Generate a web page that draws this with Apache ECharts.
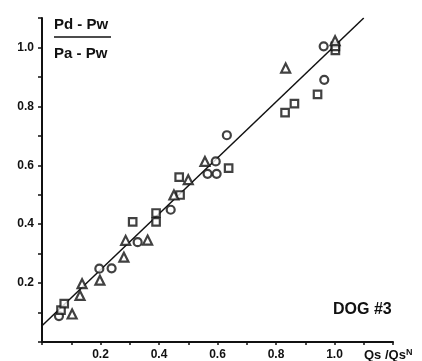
<!DOCTYPE html>
<html>
<head>
<meta charset="utf-8">
<script src="https://cdn.jsdelivr.net/npm/echarts@6/dist/echarts.min.js"></script>
<style>
  html, body { margin: 0; padding: 0; background: #fff; }
  #chart { width: 422px; height: 361px; }
</style>
</head>
<body>
<div id="chart"></div>
<script>
// values (x = Qs/QsN, y = (Pd-Pw)/(Pa-Pw))
const circles = [
  [0.058, 0.088], [0.196, 0.249], [0.238, 0.250], [0.327, 0.339],
  [0.440, 0.449], [0.566, 0.571], [0.597, 0.571], [0.594, 0.613],
  [0.632, 0.702], [0.965, 0.890], [0.963, 1.004]
];
const squares = [
  [0.065, 0.108], [0.076, 0.130], [0.310, 0.408], [0.390, 0.438],
  [0.390, 0.408], [0.472, 0.499], [0.469, 0.560], [0.638, 0.590],
  [0.831, 0.779], [0.863, 0.809], [0.942, 0.841], [1.003, 0.990],
  [1.003, 1.004]
];
const triangles = [
  [0.103, 0.095], [0.137, 0.198], [0.130, 0.158], [0.198, 0.210],
  [0.280, 0.288], [0.286, 0.345], [0.361, 0.346], [0.451, 0.499],
  [0.500, 0.551], [0.557, 0.613], [0.833, 0.930], [1.002, 1.023]
];
const fitLine = [[0, 0.055], [1.1, 1.1]];
const xLabels = [0.2, 0.4, 0.6, 0.8, 1.0];
const yLabels = [0.2, 0.4, 0.6, 0.8, 1.0];

const ink = "#111";
const font = "'Liberation Sans', Arial, sans-serif";

const chart = echarts.init(document.getElementById("chart"), null, { renderer: "canvas" });

const showIf = (list) => (v) => list.some((t) => Math.abs(t - v) < 1e-6) ? v.toFixed(1) : "";

const markStyle = { color: "#fff", borderColor: ink, borderWidth: 2.2 };

chart.setOption({
  animation: false,
  backgroundColor: "#fff",
  grid: { left: 42, right: 29, top: 18, bottom: 19 },
  xAxis: {
    type: "value",
    min: 0,
    max: 1.2,
    interval: 0.1,
    splitLine: { show: false },
    axisLine: { lineStyle: { color: ink, width: 2 } },
    axisTick: { length: 3, lineStyle: { color: ink, width: 1.5 } },
    axisLabel: {
      color: ink, fontFamily: font, fontWeight: "bold", fontSize: 12,
      margin: 7, formatter: showIf(xLabels)
    }
  },
  yAxis: {
    type: "value",
    min: 0,
    max: 1.1,
    interval: 0.1,
    splitLine: { show: false },
    axisLine: { lineStyle: { color: ink, width: 2 } },
    axisTick: { length: 4, lineStyle: { color: ink, width: 1.5 } },
    axisLabel: {
      color: ink, fontFamily: font, fontWeight: "bold", fontSize: 12,
      margin: 8, formatter: showIf(yLabels)
    }
  },
  graphic: [
    { type: "text", left: 54, top: 17,
      style: { text: "Pd - Pw", fill: ink, font: "bold 15px " + font } },
    { type: "line", shape: { x1: 54, y1: 37, x2: 111, y2: 37 },
      style: { stroke: ink, lineWidth: 1.5 } },
    { type: "text", left: 54, top: 46,
      style: { text: "Pa - Pw", fill: ink, font: "bold 15px " + font } },
    { type: "text", left: 333, top: 302,
      style: { text: "DOG #3", fill: ink, font: "bold 16px " + font } },
    { type: "text", left: 364, top: 348,
      style: {
        text: "Qs /Qs{sup|N}", fill: ink, font: "bold 13px " + font,
        rich: { sup: { fontSize: 9, fontWeight: "bold", fontFamily: font, verticalAlign: "top", padding: [0, 0, 6, 0] } }
      } }
  ],
  series: [
    {
      type: "line", data: fitLine, showSymbol: false, silent: true,
      lineStyle: { color: ink, width: 1.5 }, z: 1
    },
    { type: "scatter", data: circles, symbol: "circle", symbolSize: 8, itemStyle: markStyle, z: 2 },
    { type: "scatter", data: squares, symbol: "rect", symbolSize: 7.5, itemStyle: markStyle, z: 2 },
    { type: "scatter", data: triangles, symbol: "triangle", symbolSize: 9, itemStyle: markStyle, z: 2 }
  ]
});
</script>
</body>
</html>
